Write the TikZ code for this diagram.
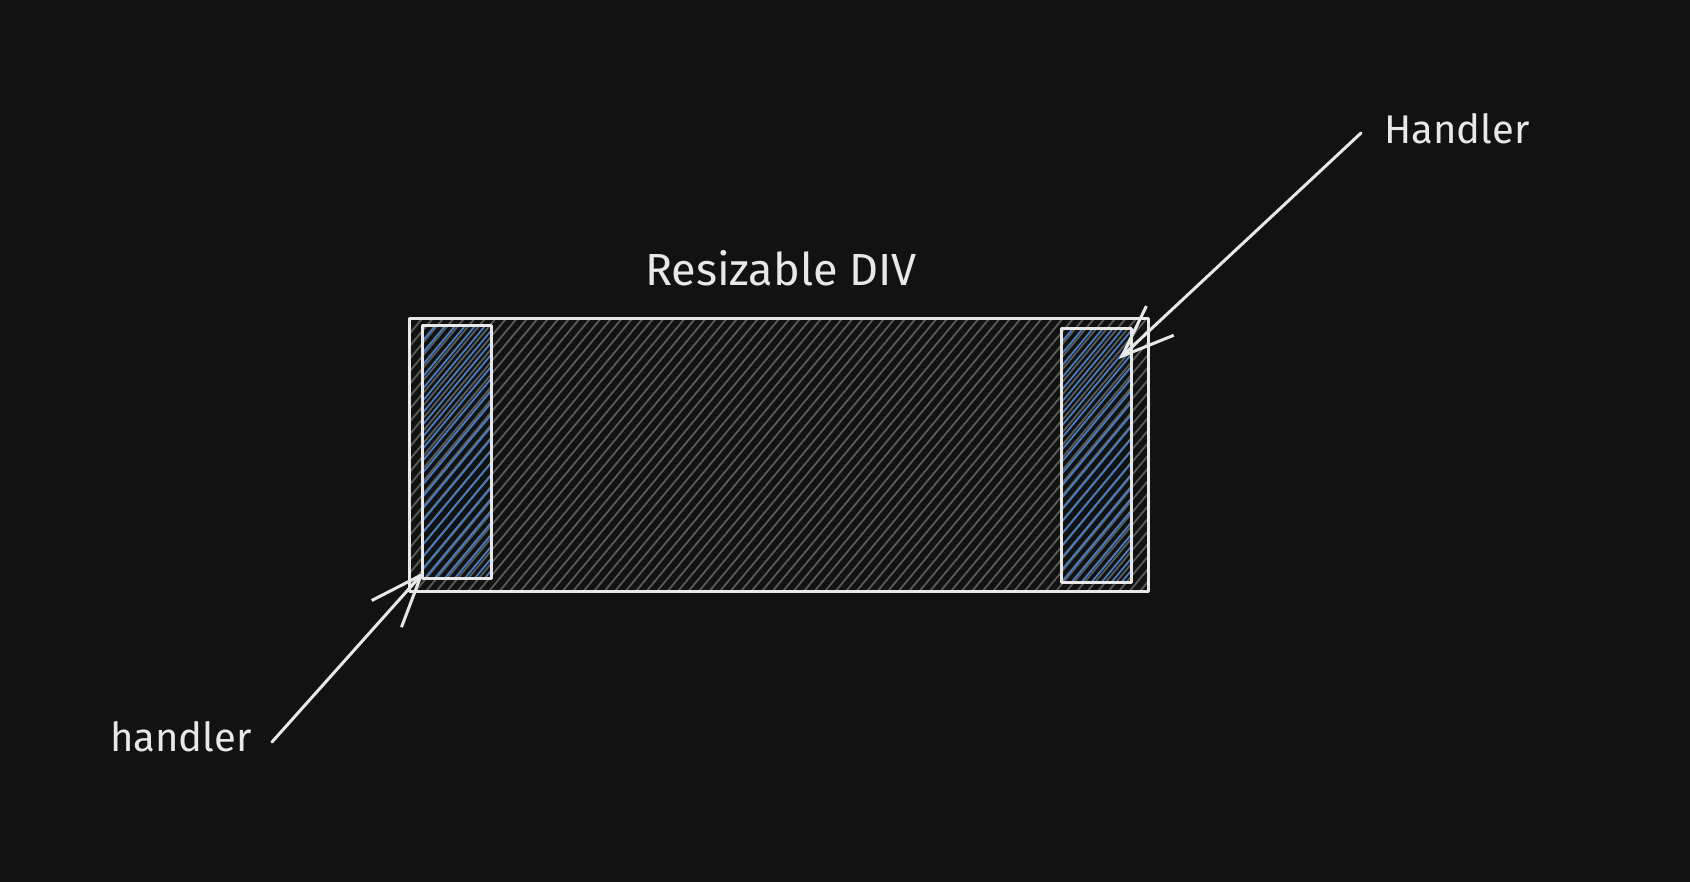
\documentclass[tikz,border=0pt]{standalone}
\usepackage{fontspec}
\setmainfont{Fira Sans}
\usetikzlibrary{arrows.meta}
\definecolor{bg}{HTML}{121212}
\definecolor{ink}{HTML}{E8E8E8}
\definecolor{hgray}{HTML}{5A5A5A}
\definecolor{hblue}{HTML}{4A7DBF}
\tikzset{
  sk/.style={draw=ink, line width=3pt, line join=round},
  hatchg/.style={draw=hgray, line width=1.8pt},
  hatchb/.style={draw=hblue, line width=1.8pt},
  lbl/.style={text=ink, font=\fontsize{40}{44}\selectfont, inner sep=0pt},
  ttl/.style={text=ink, font=\fontsize{45}{50}\selectfont, inner sep=0pt},
  arr/.style={draw=ink, line width=3pt, line cap=round, -{Straight Barb[length=52pt,width=40pt,line width=3pt]}},
}
\begin{document}
\begin{tikzpicture}[x=1pt,y=-1pt]
\fill[bg] (0,0) rectangle (1690,882);
\useasboundingbox (0,0) rectangle (1690,882);
% main hatch
\begin{scope}
\clip (409,319) rectangle (1148,591);
\foreach \i in {0,...,95} {
  \draw[hatchg] (170+\i*10.5,596) -- ++(235,-282);
}
\end{scope}
% handler hatches
\begin{scope}
\clip (422.5,325.5) rectangle (491.5,578.8);
\foreach \i in {0,...,40} {
  \draw[hatchb] (170+\i*10,596) -- ++(235,-282);
}
\end{scope}
\begin{scope}
\clip (1061.6,328.7) rectangle (1131.7,583);
\foreach \i in {0,...,40} {
  \draw[hatchb] (810+\i*10,596) -- ++(235,-282);
}
\end{scope}
\node[sk, minimum width=739pt, minimum height=272pt, inner sep=0pt] (main) at (778.5,455) {};
\node[sk, minimum width=69pt, minimum height=253pt, inner sep=0pt] (hl) at (457,452) {};
\node[sk, minimum width=70pt, minimum height=254pt, inner sep=0pt] (hr) at (1096.6,455.9) {};
\node[ttl] (title) at (781,268) {Resizable DIV};
\node[lbl] (lblR) at (1457,129) {Handler};
\node[lbl] (lblL) at (181,737) {handler};
\coordinate (sR) at (1361,133);
\coordinate (tR) at (1119,359);
\coordinate (sL) at (272,742);
\coordinate (tL) at (424,572);
\draw[arr] (sR) -- (tR);
\draw[arr] (sL) -- (tL);
\end{tikzpicture}
\end{document}
